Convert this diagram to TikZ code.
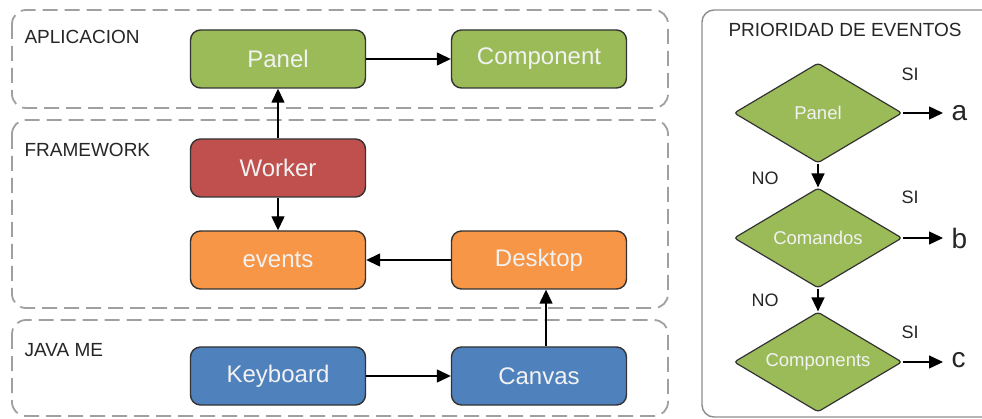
\documentclass[tikz,border=0pt]{standalone}
\usepackage{fontspec}
\setmainfont{Liberation Sans}
\usetikzlibrary{arrows.meta,shapes.geometric}
\definecolor{grpgray}{HTML}{A0A0A0}
\definecolor{panelgray}{HTML}{8C8C8C}
\definecolor{cgreen}{HTML}{9BBB59}
\definecolor{cred}{HTML}{C0504D}
\definecolor{corange}{HTML}{F79646}
\definecolor{cblue}{HTML}{4F81BD}
\definecolor{ctext}{HTML}{F2F2F2}
\tikzset{
  grp/.style={draw=grpgray, line width=1.8pt, dash pattern=on 15pt off 7pt, rounded corners=14pt},
  grplabel/.style={anchor=west, font=\fontsize{19}{21}\selectfont, text=black!85},
  box/.style={draw=black!80, line width=1.4pt, rounded corners=10pt, minimum width=175pt, minimum height=58pt,
    text=ctext, font=\fontsize{24}{27}\selectfont},
  dec/.style={diamond, aspect=1.69, draw=black!80, line width=1.2pt, fill=cgreen, minimum width=168pt, minimum height=100pt,
    inner sep=0pt, text=ctext, font=\fontsize{18.5}{20}\selectfont, rounded corners=3pt},
  arr/.style={draw=black, line width=1.4pt, -{Triangle[length=14pt,width=13pt]}},
  small/.style={font=\fontsize{18}{20}\selectfont, text=black!85},
  big/.style={font=\fontsize{28}{30}\selectfont, text=black!85, anchor=west}
}
\begin{document}
\begin{tikzpicture}[x=1pt,y=-1pt]
\useasboundingbox (0,0) rectangle (982,419);
\fill[white] (0,0) rectangle (982,419);

% layer frames
\draw[grp] (12,10) rectangle (668,108);
\draw[grp] (12,120) rectangle (668,308);
\draw[grp] (12,320) rectangle (668,416);
\node[grplabel] (lapp) at (21,37) {APLICACION};
\node[grplabel] (lfw) at (21,150) {FRAMEWORK};
\node[grplabel] (ljme) at (21,350) {JAVA ME};

% components
\node[box, fill=cgreen] (panel) at (278,59) {Panel};
\node[box, fill=cgreen] (component) at (539,59) {Component};
\node[box, fill=cred] (worker) at (278,168) {Worker};
\node[box, fill=corange] (events) at (278,260) {events};
\node[box, fill=corange] (desktop) at (539,260) {Desktop};
\node[box, fill=cblue] (keyboard) at (278,376) {Keyboard};
\node[box, fill=cblue] (canvas) at (539,376) {Canvas};

\draw[arr] (panel) -- (component);
\draw[arr] (worker.north) -- (panel.south);
\draw[arr] (worker) -- (events);
\draw[arr] (desktop) -- (events);
\draw[arr] (keyboard) -- (canvas);
\draw[arr] (canvas.north -| 546,0) -- (desktop.south -| 546,0);

% event priority panel
\draw[draw=panelgray, line width=1.4pt, rounded corners=12pt] (702,10) rectangle (995,417);
\node[font=\fontsize{19}{21}\selectfont, text=black!85] (title) at (845,30) {PRIORIDAD DE EVENTOS};

\node[dec] (dpanel) at (818,113) {Panel};
\node[dec] (dcom) at (818,238) {Comandos};
\node[dec] (dcomp) at (818,362) {Components};

\coordinate (ea) at (943,113);
\coordinate (eb) at (943,238);
\coordinate (ec) at (943,362);
\draw[arr] (dpanel.east) -- (ea);
\draw[arr] (dcom.east) -- (eb);
\draw[arr] (dcomp.east) -- (ec);
\node[big] (la) at (948,113) {a};
\node[big] (lb) at (948,238) {b};
\node[big] (lc) at (948,360) {c};

\draw[arr] (dpanel.south) -- (dcom.north);
\draw[arr] (dcom.south) -- (dcomp.north);

\node[small] (si1) at (910,74) {SI};
\node[small] (si2) at (910,197) {SI};
\node[small] (si3) at (910,332) {SI};
\node[small] (no1) at (765,178) {NO};
\node[small] (no2) at (765,300) {NO};
\end{tikzpicture}
\end{document}
